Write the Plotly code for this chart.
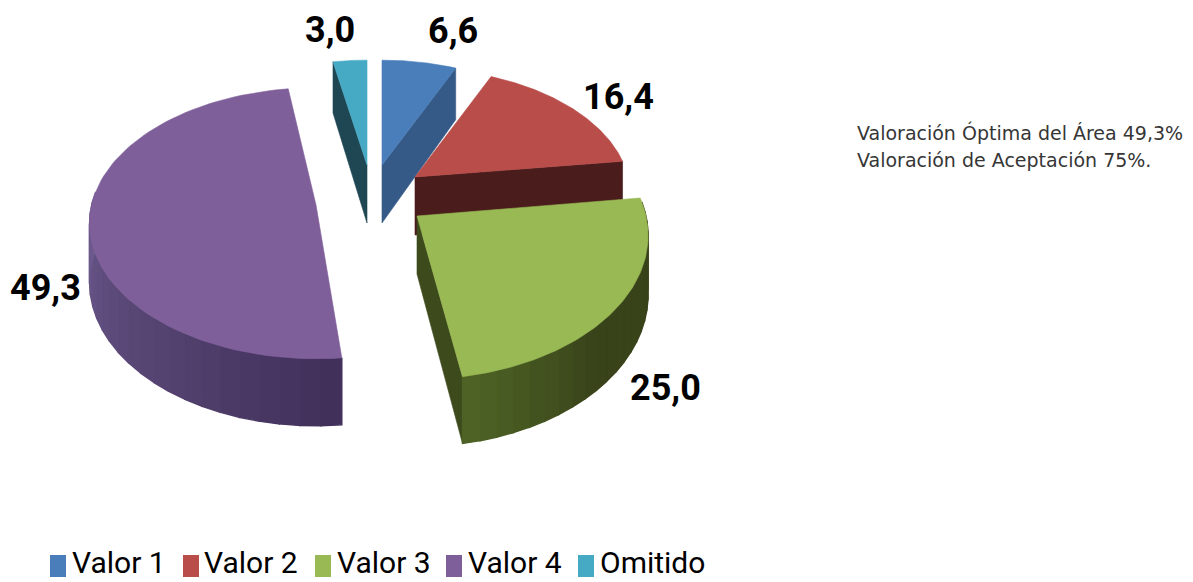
import math
import plotly.graph_objects as go

categories = ["Valor 1", "Valor 2", "Valor 3", "Valor 4", "Omitido"]
values = [6.6, 16.4, 25.0, 49.3, 3.0]
value_labels = ["6,6", "16,4", "25,0", "49,3", "3,0"]
notes = ["Valoración Óptima del Área 49,3%", "Valoración de Aceptación 75%."]

# styling of the exploded, tilted pie (pixel space of the figure)
top_colors = ["#4a7ebb", "#b84d4a", "#98b954", "#7f5f9a", "#46aac4"]
wall_colors = ["#365a87", "#4a1c1c", "#3d4a1c", "#56406f", "#1f4653"]
band_dark = {2: "#39431a", 3: "#41305a"}
band_light = {2: "#4d6224", 3: "#6d5a8e"}
apex = [(382, 165), (415, 177), (417, 216), (316, 205), (367, 165)]
scale_x = [0.90, 0.93, 1.0, 0.98, 0.90]
scale_y = [0.85, 0.88, 1.01, 0.95, 0.85]
# small drawing nudges (degrees) of the slice edges to follow the original's perspective
nudge_start = [0, 0, 0, 2.0, 0]
nudge_end = [0, 0, -2.2, 2.7, 0]
radius_x, radius_y, persp, depth = 229, 140, 0.135, 58
draw_order = [4, 0, 1, 3, 2]
radial_wall_edge = {0: "end", 1: "end", 2: "end", 4: "start"}
label_pos = [(453, 31), (618, 97), (665, 388), (45, 288), (330, 30)]
legend_swatch_x = [50, 183, 315, 446, 578]
legend_text_x = [70, 202, 335, 466, 598]

total = sum(values)
bounds = [0.0]
for v in values:
    bounds.append(bounds[-1] + v / total * 2 * math.pi)


def project(i, theta, lowered=False):
    sx, sz = math.sin(theta), math.cos(theta)
    d = 1 + persp * sz
    x = apex[i][0] + radius_x * scale_x[i] * sx / d
    y = apex[i][1] - radius_y * scale_y[i] * sz / d
    if lowered:
        y += depth / d
    return x, y


def apex_low(i):
    return apex[i][0], apex[i][1] + depth


def mix(c1, c2, t):
    a = [int(c1[k:k + 2], 16) for k in (1, 3, 5)]
    b = [int(c2[k:k + 2], 16) for k in (1, 3, 5)]
    return "#%02x%02x%02x" % tuple(round(p + (q - p) * t) for p, q in zip(a, b))


def poly(pts, color, name, width=0.6):
    return go.Scatter(
        x=[p[0] for p in pts] + [pts[0][0]],
        y=[p[1] for p in pts] + [pts[0][1]],
        mode="lines", fill="toself", fillcolor=color,
        line=dict(color=color, width=width),
        name=name, hoverinfo="name", showlegend=False,
    )


fig = go.Figure()
for i in draw_order:
    t0 = bounds[i] + math.radians(nudge_start[i])
    t1 = bounds[i + 1] + math.radians(nudge_end[i])
    if i in radial_wall_edge:
        t = t1 if radial_wall_edge[i] == "end" else t0
        fig.add_trace(poly([apex[i], project(i, t), project(i, t, True), apex_low(i)],
                           wall_colors[i], categories[i]))
    if i in band_dark:
        lo = max(t0, math.pi / 2 - 0.1)
        hi = min(t1, 3 * math.pi / 2 + 0.1)
        n = 22
        for k in range(n):
            a = lo + (hi - lo) * k / n
            b = lo + (hi - lo) * (k + 1) / n
            sub = [a + (b - a) * s / 4 for s in range(5)]
            pts = [project(i, s) for s in sub] + [project(i, s, True) for s in reversed(sub)]
            u = k / (n - 1)
            if i == 2:
                u = max(0.0, (u - 0.6) / 0.4)
            fig.add_trace(poly(pts, mix(band_dark[i], band_light[i], u), categories[i], 1.4))
    steps = 90
    arc = [project(i, t0 + (t1 - t0) * s / steps) for s in range(steps + 1)]
    fig.add_trace(poly([apex[i]] + arc, top_colors[i], categories[i]))

annotations = []
for txt, (x, y) in zip(value_labels, label_pos):
    annotations.append(dict(x=x, y=y, xref="x", yref="y", text="<b>" + txt + "</b>", showarrow=False,
                            xanchor="center", yanchor="middle",
                            font=dict(family="Roboto", size=36, color="#000000")))

for txt, y in zip(notes, [132, 160]):
    annotations.append(dict(x=855, y=y, xref="x", yref="y", text=txt, showarrow=False,
                            xanchor="left", yanchor="middle",
                            font=dict(family="DejaVu Sans", size=19, color="#363636")))

shapes = []
for name, color, sx, tx in zip(categories, top_colors, legend_swatch_x, legend_text_x):
    shapes.append(dict(type="rect", xref="x", yref="y", x0=sx, x1=sx + 16, y0=555, y1=577,
                       fillcolor=color, line=dict(width=0), layer="above"))
    annotations.append(dict(x=tx, y=562, xref="x", yref="y", text=name, showarrow=False,
                            xanchor="left", yanchor="middle",
                            font=dict(family="Roboto", size=30, color="#000000")))

fig.update_layout(
    width=1193, height=582, margin=dict(l=0, r=0, t=0, b=0),
    paper_bgcolor="#ffffff", plot_bgcolor="#ffffff", showlegend=False,
    xaxis=dict(range=[0, 1193], visible=False, fixedrange=True),
    yaxis=dict(range=[582, 0], visible=False, fixedrange=True),
    annotations=annotations, shapes=shapes,
)
fig.write_html("out.html", config={"displayModeBar": False},
               post_script="document.body.style.margin='0';document.documentElement.style.overflow='hidden';")
